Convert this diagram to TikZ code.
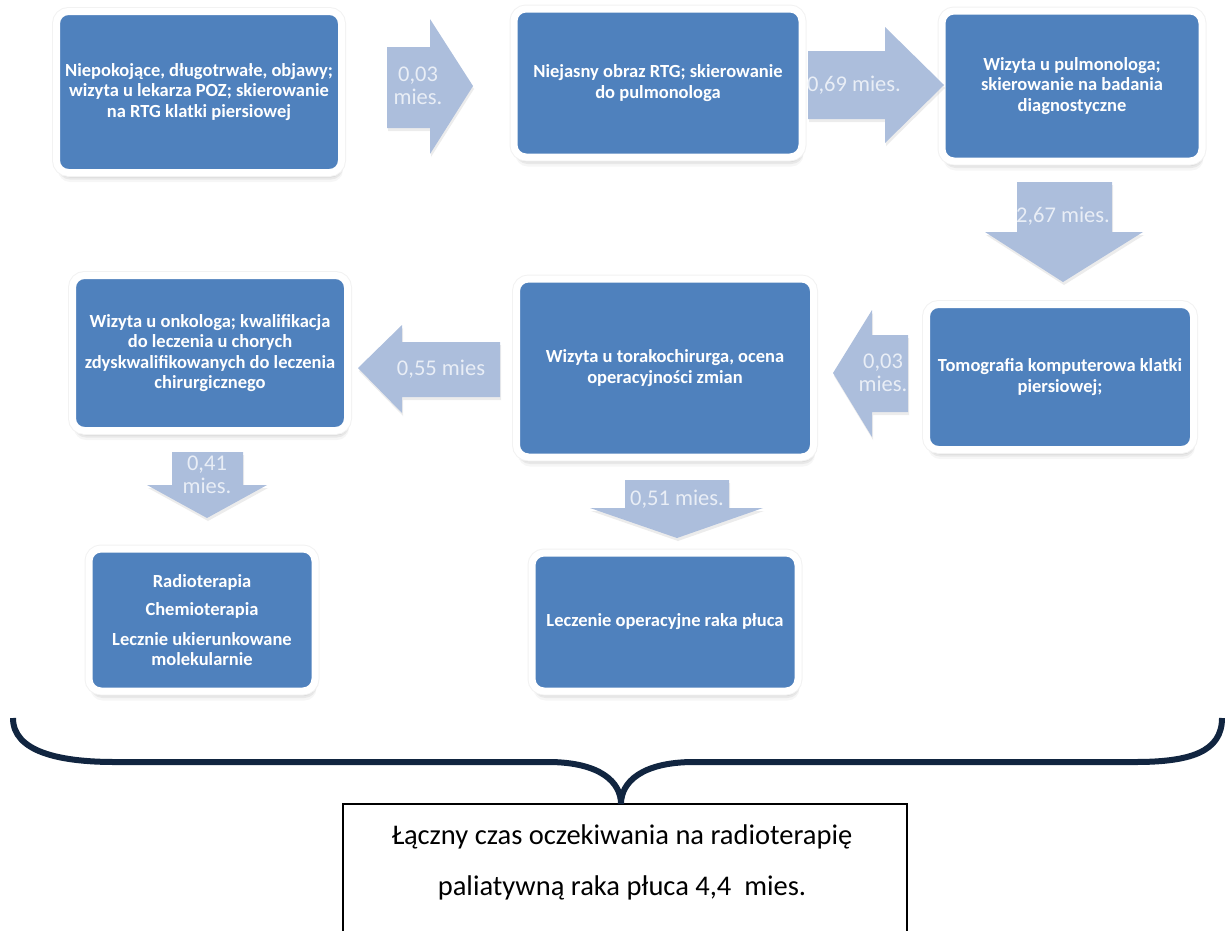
\documentclass[tikz,border=0pt]{standalone}
\usepackage{fontspec}
\setmainfont{Carlito}
\usepackage{xcolor}
\usetikzlibrary{shadows}

\definecolor{boxblue}{RGB}{79,129,189}
\definecolor{arrowblue}{RGB}{172,190,220}
\definecolor{labelwhite}{RGB}{233,238,246}
\definecolor{bracenavy}{RGB}{17,37,64}

\begin{document}
\begin{tikzpicture}[x=1pt, y=-1pt,
  stage/.style={draw=white, line width=7pt, fill=boxblue, rounded corners=12pt,
    text=white, font=\fontsize{18.5}{20.5}\selectfont\bfseries, align=center, inner sep=0pt,
    drop shadow={shadow xshift=1pt, shadow yshift=-5pt, opacity=0.16},
    drop shadow={shadow xshift=1.5pt, shadow yshift=-7pt, opacity=0.12},
    drop shadow={shadow xshift=1.5pt, shadow yshift=-9.5pt, opacity=0.07},
    preaction={draw=black!5, line width=9pt}},
  gap/.style={fill=arrowblue, drop shadow={shadow xshift=1pt, shadow yshift=-3pt, opacity=0.15}},
  gaplabel/.style={text=labelwhite, font=\fontsize{22.5}{23}\selectfont, align=center, inner sep=0pt}]
\useasboundingbox (0,0) rectangle (1225,930);
\clip (0,0) rectangle (1225,930);

% --- Row 1 ---
\node[stage, minimum width=285pt, minimum height=161pt] (objawy) at (199,92)
  {Niepokojące, długotrwałe, objawy;\\wizyta u lekarza POZ; skierowanie\\na RTG klatki piersiowej};
\node[stage, minimum width=288pt, minimum height=148pt] (rtg) at (658,83)
  {Niejasny obraz RTG; skierowanie\\do pulmonologa};
\node[stage, minimum width=260pt, minimum height=150pt] (pulmo) at (1072,86)
  {Wizyta u pulmonologa;\\skierowanie na badania\\diagnostyczne};
% 0,03 mies. (right)
\fill[gap] (387,47) -- (430,47) -- (430,19) -- (473,86) -- (430,154) -- (430,128) -- (387,128) -- cycle;
\node[gaplabel] (gap1) at (418,86) {0,03\\mies.};
% 0,69 mies. (right)
\fill[gap] (808,51) -- (885,51) -- (885,27) -- (944,85) -- (885,143) -- (885,119) -- (808,119) -- cycle;
\node[gaplabel] (gap2) at (854,85) {0,69 mies.};
% 2,67 mies. (down)
\fill[gap] (1017,182) -- (1112,182) -- (1112,232) -- (1143,232) -- (1063,282) -- (985,232) -- (1017,232) -- cycle;
\node[gaplabel] (gap3) at (1063,216) {2,67 mies.};

% --- Row 2 ---
\node[stage, minimum width=267pt, minimum height=145pt] (tk) at (1060,377)
  {Tomografia komputerowa klatki\\piersiowej;};
\node[stage, minimum width=297pt, minimum height=178pt] (torako) at (665,368)
  {Wizyta u torakochirurga, ocena\\operacyjności zmian};
\node[stage, minimum width=275pt, minimum height=155pt] (onko) at (210,353)
  {Wizyta u onkologa; kwalifikacja\\do leczenia u chorych\\zdyskwalifikowanych do leczenia\\chirurgicznego};
% 0,03 mies. (left)
\fill[gap] (908,335) -- (872,335) -- (872,310) -- (833,373) -- (872,437) -- (872,412) -- (908,412) -- cycle;
\node[gaplabel] (gap4) at (883,373) {0,03\\mies.};
% 0,55 mies (left)
\fill[gap] (500,342) -- (402,342) -- (402,325) -- (358,368) -- (402,413) -- (402,397) -- (500,397) -- cycle;
\node[gaplabel] (gap5) at (441,369) {0,55 mies};

% --- Row 3 ---
\fill[gap] (172,452) -- (243,452) -- (243,485) -- (267,485) -- (207,518) -- (147,485) -- (172,485) -- cycle;
\node[gaplabel] (gap6) at (207,475) {0,41\\mies.};
\fill[gap] (625,480) -- (729,480) -- (729,508) -- (763,508) -- (677,538) -- (590,508) -- (625,508) -- cycle;
\node[gaplabel] (gap7) at (677,499) {0,51 mies.};
\node[stage, minimum width=226pt, minimum height=142pt] (terapia) at (202,620)
  {Radioterapia\\[8pt]Chemioterapia\\[9pt]Lecznie ukierunkowane\\molekularnie};
\node[stage, minimum width=266pt, minimum height=138pt] (operacja) at (665,622)
  {Leczenie operacyjne raka płuca};

% --- Brace and total ---
\node[draw=black, line width=1.8pt, minimum width=564pt, minimum height=140pt, inner sep=0pt] (razem) at (625,874) {};
\node[font=\fontsize{28.5}{51}\selectfont, align=center, inner sep=0pt] (razemtxt) at (622,862)
  {Łączny czas oczekiwania na radioterapię\\paliatywną raka płuca 4,4\ \ mies.};
\coordinate (tip) at (621,804);
\draw[bracenavy, line width=6pt] (13,718) .. controls (13,752) and (60,762) .. (115,762) -- (548,762)
  .. controls (600,762) and (621,782) .. (tip);
\draw[bracenavy, line width=6pt] (tip) .. controls (621,782) and (642,762) .. (694,762) -- (1135,762)
  .. controls (1190,762) and (1222,752) .. (1222,718);
\end{tikzpicture}
\end{document}
